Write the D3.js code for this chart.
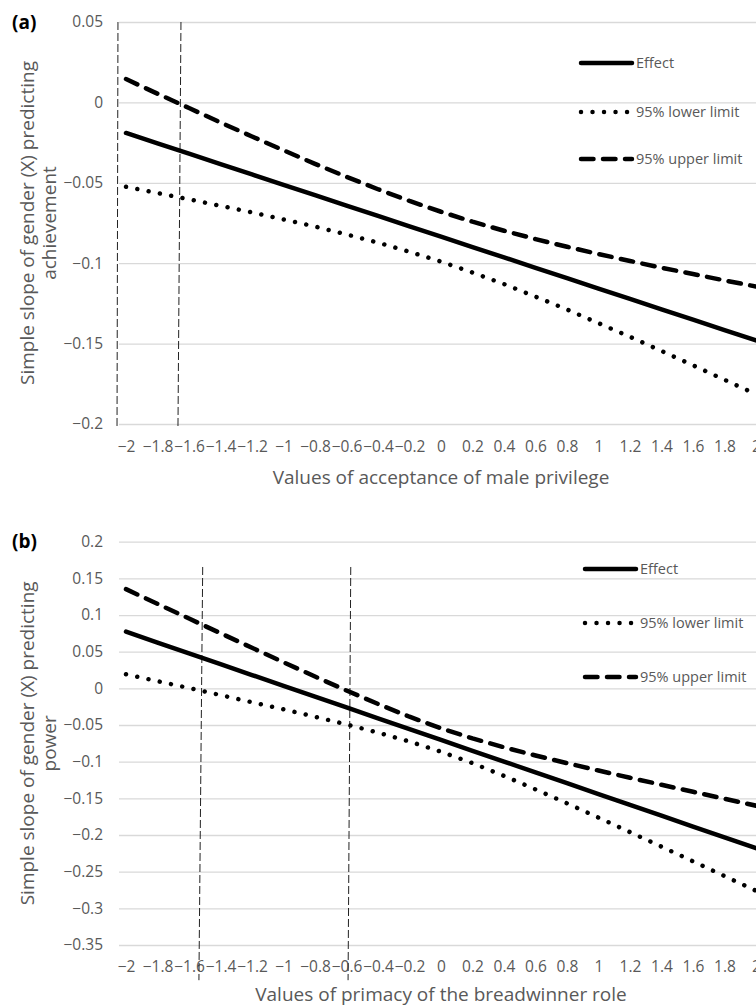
<!DOCTYPE html>
<html>
<head>
<meta charset="utf-8">
<script src="https://cdn.jsdelivr.net/npm/d3@7"></script>
<style>
  body { margin: 0; background: #fff; }
  svg { display: block; font-family: "Open Sans", sans-serif; }
  .grid line { stroke: #d9d9d9; stroke-width: 1.3; }
  .grid text, .xaxis text { fill: #595959; font-size: 15.5px; font-family: "Open Sans", sans-serif; }
  .axisTitle { fill: #595959; font-size: 19px; }
  .legend text { fill: #595959; font-size: 14.5px; }
  .panelLabel { fill: #000; font-size: 19px; font-weight: bold; }
</style>
</head>
<body>
<script>

// moderator values (x) where the simple slope was evaluated
var xValues = [-2, -1.8, -1.6, -1.4, -1.2, -1, -0.8, -0.6, -0.4, -0.2, 0, 0.2, 0.4, 0.6, 0.8, 1, 1.2, 1.4, 1.6, 1.8, 2];
var xTicks = [-2, -1.8, -1.6, -1.4, -1.2, -1, -0.8, -0.6, -0.4, -0.2, 0, 0.2, 0.4, 0.6, 0.8, 1, 1.2, 1.4, 1.6, 1.8, 2];

// (a) achievement
var effectA = [-0.019, -0.0255, -0.0319, -0.0384, -0.0448, -0.0513, -0.0577, -0.0642, -0.0706, -0.0771, -0.0835,
               -0.0900, -0.0964, -0.1029, -0.1093, -0.1158, -0.1222, -0.1287, -0.1351, -0.1416, -0.148];
var lowerA  = [-0.0525, -0.0564, -0.0603, -0.0643, -0.0684, -0.0728, -0.0772, -0.0821, -0.0872, -0.0929, -0.0990,
               -0.1058, -0.1130, -0.1208, -0.1288, -0.1373, -0.1458, -0.1546, -0.1635, -0.1725, -0.1815];
var upperA  = [0.0145, 0.0054, -0.0035, -0.0125, -0.0212, -0.0298, -0.0382, -0.0463, -0.0540, -0.0613, -0.0680,
               -0.0742, -0.0798, -0.0850, -0.0898, -0.0943, -0.0986, -0.1028, -0.1067, -0.1107, -0.1145];
var yTicksA = [0.05, 0, -0.05, -0.1, -0.15, -0.2];
var markerTopA = [-2.051, -1.651];
var markerBottomA = [-2.057, -1.670];
var markerSpanA = [0.05, -0.202];

// (b) power
var effectB = [0.0773, 0.0625, 0.0478, 0.0330, 0.0182, 0.0035, -0.0113, -0.0261, -0.0408, -0.0556, -0.0704,
               -0.0851, -0.0999, -0.1147, -0.1294, -0.1442, -0.1590, -0.1737, -0.1885, -0.2033, -0.2180];
var lowerB  = [0.0193, 0.0098, 0.0004, -0.0092, -0.0189, -0.0286, -0.0387, -0.0492, -0.0603, -0.0725, -0.0864,
               -0.1020, -0.1194, -0.1378, -0.1568, -0.1763, -0.1961, -0.2159, -0.2359, -0.2560, -0.2760];
var upperB  = [0.1353, 0.1152, 0.0952, 0.0752, 0.0553, 0.0356, 0.0161, -0.0030, -0.0213, -0.0387, -0.0544,
               -0.0682, -0.0804, -0.0916, -0.1020, -0.1121, -0.1219, -0.1315, -0.1411, -0.1506, -0.1600];
var yTicksB = [0.2, 0.15, 0.1, 0.05, 0, -0.05, -0.1, -0.15, -0.2, -0.25, -0.3, -0.35];
var markerTopB = [-1.513, -0.573];
var markerBottomB = [-1.537, -0.590];
var markerSpanB = [0.1655, -0.398];

var seriesNames = ["Effect", "95% lower limit", "95% upper limit"];

var width = 756, height = 1007;
var plotLeft = 119;

var dashes = { "Effect": null, "95% lower limit": "0.01 11.5", "95% upper limit": "12.5 9.5" };

function fmt(v) { return String(+v.toFixed(2)).replace("-", "\u2212"); }

var svg = d3.select("body").append("svg")
    .attr("width", width).attr("height", height);

var x = d3.scaleLinear().domain([-2, 2]).range([126, 756]);

function drawPanel(p) {
  var y = d3.scaleLinear().domain([p.yTicks[0], p.yTicks[p.yTicks.length - 1]]).range([p.top, p.bottom]);
  var g = svg.append("g");

  // gridlines + y tick labels
  var yAxis = d3.axisLeft(y).tickValues(p.yTicks).tickSize(-(width - plotLeft)).tickPadding(16).tickFormat(fmt);
  var ga = g.append("g").attr("class", "grid").attr("transform", "translate(" + plotLeft + ",0)").call(yAxis);
  ga.select(".domain").remove();
  ga.selectAll("text").attr("font-size", null).attr("font-family", null);

  // x tick labels (no axis line)
  var xAxis = d3.axisBottom(x).tickValues(xTicks).tickSize(0).tickPadding(p.xPad).tickFormat(fmt);
  var gx = g.append("g").attr("class", "xaxis").attr("transform", "translate(0," + p.bottom + ")").call(xAxis);
  gx.select(".domain").remove();
  gx.selectAll("text").attr("font-size", null).attr("font-family", null);

  // vertical dashed markers
  g.selectAll(".marker").data(p.markerTop)
    .enter().append("line")
      .attr("class", "marker")
      .attr("x1", function(d) { return x(d); })
      .attr("x2", function(d, i) { return x(p.markerBottom[i]); })
      .attr("y1", y(p.markerSpan[0]))
      .attr("y2", y(p.markerSpan[1]))
      .attr("stroke", "#222").attr("stroke-width", 1)
      .attr("stroke-dasharray", "8 3");

  var line = d3.line()
      .x(function(d, i) { return x(xValues[i]); })
      .y(function(d) { return y(d); });

  g.selectAll(".series").data(p.series)
    .enter().append("path")
      .attr("class", "series")
      .attr("d", function(d) { return line(d); })
      .attr("fill", "none")
      .attr("stroke", "#000")
      .attr("stroke-width", 4.5)
      .attr("stroke-linecap", "round")
      .attr("stroke-dasharray", function(d, i) { return dashes[seriesNames[i]]; });

  // legend
  var leg = g.selectAll(".legend").data(seriesNames)
    .enter().append("g")
      .attr("class", "legend")
      .attr("transform", function(d, i) { return "translate(0," + p.legendY[i] + ")"; });
  leg.append("line")
      .attr("x1", p.legendX[0]).attr("x2", p.legendX[1])
      .attr("stroke", "#000").attr("stroke-width", 4.5)
      .attr("stroke-linecap", "round")
      .attr("stroke-dasharray", function(d) { return dashes[d]; });
  leg.append("text")
      .attr("x", p.legendX[1] + 4)
      .attr("dy", "0.35em")
      .text(function(d) { return d; });

  // titles
  var mid = (p.top + p.bottom) / 2;
  var yt = g.append("text").attr("class", "axisTitle")
      .attr("transform", "translate(34," + mid + ") rotate(-90)")
      .style("text-anchor", "middle");
  yt.append("tspan").attr("x", 0).attr("y", 0).text(p.yTitle[0]);
  yt.append("tspan").attr("x", 0).attr("y", 22).text(p.yTitle[1]);

  g.append("text").attr("class", "axisTitle")
      .attr("x", 441).attr("y", p.xTitleY)
      .style("text-anchor", "middle")
      .text(p.xTitle);

  g.append("text").attr("class", "panelLabel")
      .attr("x", 12).attr("y", p.top + 6.5)
      .text(p.label);
}

drawPanel({
  label: "(a)", top: 22, bottom: 424, yTicks: yTicksA,
  series: [effectA, lowerA, upperA],
  markerTop: markerTopA, markerBottom: markerBottomA, markerSpan: markerSpanA,
  legendX: [581, 632], legendY: [63, 112, 159],
  xPad: 17, xTitleY: 484,
  yTitle: ["Simple slope of gender (X) predicting", "achievement"],
  xTitle: "Values of acceptance of male privilege"
});

drawPanel({
  label: "(b)", top: 541.7, bottom: 945, yTicks: yTicksB,
  series: [effectB, lowerB, upperB],
  markerTop: markerTopB, markerBottom: markerBottomB, markerSpan: markerSpanB,
  legendX: [585, 636], legendY: [569, 623, 677],
  xPad: 16, xTitleY: 1001,
  yTitle: ["Simple slope of gender (X) predicting", "power"],
  xTitle: "Values of primacy of the breadwinner role"
});

</script>
</body>
</html>
